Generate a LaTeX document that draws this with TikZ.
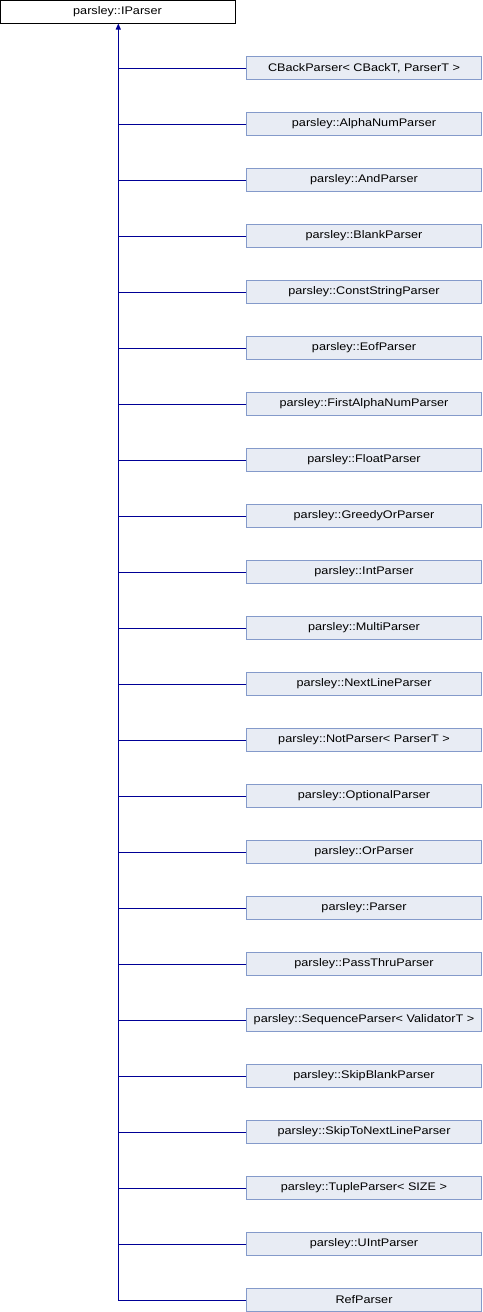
\documentclass[tikz,border=0pt]{standalone}
\usepackage{fontspec}
\setmainfont{Liberation Sans}[FakeStretch=1.15]
\usetikzlibrary{arrows.meta}
\definecolor{edgeblue}{RGB}{0,0,150}
\definecolor{boxfill}{RGB}{232,236,244}
\definecolor{boxline}{RGB}{132,154,202}
\tikzset{
  x=1pt,y=1pt,
  basebox/.style={rectangle,inner sep=0pt,minimum width=235pt,minimum height=23pt,font=\fontsize{11}{13}\selectfont,line width=1pt},
  topbox/.style={basebox,draw=black,fill=white},
  childbox/.style={basebox,draw=boxline,fill=boxfill},
  inherit/.style={draw=edgeblue,line width=1pt},
  inherittip/.style={inherit,{Triangle[width=5pt,length=6pt]}-}
}
\begin{document}
\begin{tikzpicture}
\useasboundingbox (0,0) rectangle (482,-1312);
\node[topbox] (n0) at (117.5,-11.5) {parsley::IParser};
\foreach \lab [count=\i] in {
  {CBackParser< CBackT, ParserT >},
  {parsley::AlphaNumParser},
  {parsley::AndParser},
  {parsley::BlankParser},
  {parsley::ConstStringParser},
  {parsley::EofParser},
  {parsley::FirstAlphaNumParser},
  {parsley::FloatParser},
  {parsley::GreedyOrParser},
  {parsley::IntParser},
  {parsley::MultiParser},
  {parsley::NextLineParser},
  {parsley::NotParser< ParserT >},
  {parsley::OptionalParser},
  {parsley::OrParser},
  {parsley::Parser},
  {parsley::PassThruParser},
  {parsley::SequenceParser< ValidatorT >},
  {parsley::SkipBlankParser},
  {parsley::SkipToNextLineParser},
  {parsley::TupleParser< SIZE >},
  {parsley::UIntParser},
  {RefParser}} {
  \node[childbox] (c\i) at (364,{-68-56*(\i-1)}) {\lab};
}
\draw[inherittip] ([xshift=0.8pt]n0.south) |- (c23.west);
\foreach \i in {1,...,22} {
  \draw[inherit] (c\i.west) -- ([xshift=0.8pt]n0.south |- c\i.west);
}
\end{tikzpicture}
\end{document}
